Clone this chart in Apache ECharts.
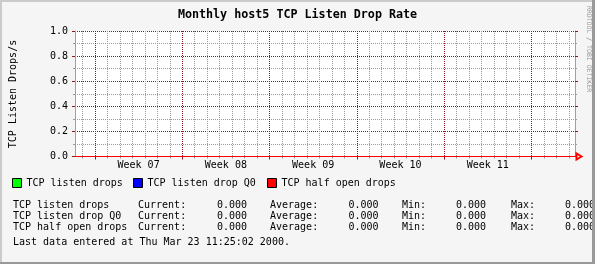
<!DOCTYPE html>
<html><head><meta charset="utf-8">
<script src="https://cdn.jsdelivr.net/npm/echarts@6/dist/echarts.min.js"></script>
<style>html,body{margin:0;padding:0;background:#f5f5f5}#c{width:595px;height:264px}</style>
</head><body><div id="c"></div>
<script>
const chartTitle = 'Monthly host5 TCP Listen Drop Rate';
const yAxisTitle = 'TCP Listen Drops/s';
const watermark = 'RRDTOOL / TOBI OETIKER';
const seriesNames = ['TCP listen drops', 'TCP listen drop Q0', 'TCP half open drops'];
const seriesColors = ['#00ff00', '#0000ff', '#ff0000'];
const weekLabels = ['Week 07', 'Week 08', 'Week 09', 'Week 10', 'Week 11'];
const weekLabelDays = [3.5, 10.5, 17.5, 24.5, 31.5];
const weekStartDays = [0, 7, 14, 21, 28, 35];   // days since Mon 14 Feb 2000
const dayLines = [-1, 1, 2, 3, 4, 5, 6, 8, 9, 10, 11, 12, 13, 15, 16, 17, 18, 19, 20, 22, 23, 24, 25, 26, 27, 29, 30, 31, 32, 33, 34, 36, 37, 38];
const xStart = -1.6, xEnd = 38.5;
const sampleDays = [-1.6, -1, 0, 1, 2, 3, 4, 5, 6, 7, 8, 9, 10, 11, 12, 13, 14, 15, 16, 17, 18, 19, 20, 21, 22, 23, 24, 25, 26, 27, 28, 29, 30, 31, 32, 33, 34, 35, 36, 37, 38, 38.5];
const listenDrops   = [0,0,0,0,0,0,0,0,0,0,0,0,0,0,0,0,0,0,0,0,0,0,0,0,0,0,0,0,0,0,0,0,0,0,0,0,0,0,0,0,0,0];
const listenDropQ0  = [0,0,0,0,0,0,0,0,0,0,0,0,0,0,0,0,0,0,0,0,0,0,0,0,0,0,0,0,0,0,0,0,0,0,0,0,0,0,0,0,0,0];
const halfOpenDrops = [0,0,0,0,0,0,0,0,0,0,0,0,0,0,0,0,0,0,0,0,0,0,0,0,0,0,0,0,0,0,0,0,0,0,0,0,0,0,0,0,0,0];
const yMin = 0, yMax = 1.0, yStep = 0.2;
const statCurrent = [0, 0, 0];
const statAverage = [0, 0, 0];
const statMin = [0, 0, 0];
const statMax = [0, 0, 0];
const lastUpdate = 'Last data entered at Thu Mar 23 11:25:02 2000.';

const FONT = '"DejaVu Sans Mono", monospace';
const MGRID = '#8b1a1a', GRID = '#9a9a9a', AXIS = '#a0a0a0';
const seriesData = [listenDrops, listenDropQ0, halfOpenDrops];

const chart = echarts.init(document.getElementById('c'), null, {renderer: 'canvas'});

function txt(x, y, text, align, extra) {
  return Object.assign({
    type: 'text', x: x, y: y, silent: true,
    style: {text: text, font: '10px ' + FONT, fill: '#000',
      align: align || 'left', verticalAlign: 'middle',
      textAlign: align || 'left', textVerticalAlign: 'middle'}
  }, extra || {});
}

const graphics = [];
graphics.push(txt(297.5, 15, chartTitle, 'center'));
graphics[0].style.font = 'bold 11.7px ' + FONT;
graphics.push(txt(13.5, 94, yAxisTitle, 'center', {rotation: Math.PI / 2}));
const wm = txt(589, 49, watermark, 'center', {rotation: -Math.PI / 2});
wm.style.font = '6.5px ' + FONT; wm.style.fill = '#999999';
graphics.push(wm);
const rowY = [205, 216, 227];
for (let i = 0; i < seriesNames.length; i++) {
  const y = rowY[i];
  graphics.push(txt(13, y, seriesNames[i]));
  graphics.push(txt(138, y, 'Current:'));
  graphics.push(txt(247, y, statCurrent[i].toFixed(3), 'right'));
  graphics.push(txt(270, y, 'Average:'));
  graphics.push(txt(378.5, y, statAverage[i].toFixed(3), 'right'));
  graphics.push(txt(402, y, 'Min:'));
  graphics.push(txt(486, y, statMin[i].toFixed(3), 'right'));
  graphics.push(txt(511, y, 'Max:'));
  graphics.push(txt(595, y, statMax[i].toFixed(3), 'right'));
}
graphics.push(txt(13, 242, lastUpdate));
// frame
graphics.push({type: 'rect', z: 100, shape: {x: 0, y: 0, width: 595, height: 2}, style: {fill: '#cbcbcb'}});
graphics.push({type: 'rect', z: 100, shape: {x: 0, y: 0, width: 2, height: 264}, style: {fill: '#cbcbcb'}});
graphics.push({type: 'rect', z: 101, shape: {x: 592, y: 0, width: 3, height: 264}, style: {fill: '#999999'}});
graphics.push({type: 'rect', z: 101, shape: {x: 0, y: 262, width: 595, height: 2}, style: {fill: '#999999'}});

const legendLeft = [12, 133, 267];
const legends = seriesNames.map((n, i) => ({
  data: [n], left: legendLeft[i], top: 178, orient: 'horizontal', padding: 0,
  icon: 'rect', itemWidth: 9, itemHeight: 9, selectedMode: false,
  itemStyle: {borderColor: '#000', borderWidth: 1},
  textStyle: {fontFamily: FONT, fontSize: 10, color: '#000'}
}));

const baseY = {
  type: 'value', min: yMin, max: yMax, interval: yStep,
  axisLine: {show: true, onZero: false, lineStyle: {color: AXIS, width: 1}},
  axisTick: {show: true, length: 3, lineStyle: {color: MGRID}},
  minorTick: {show: true, splitNumber: 2, length: 2, lineStyle: {color: GRID}},
};

const option = {
  animation: false,
  backgroundColor: '#f5f5f5',
  grid: {left: 75, top: 31, width: 500, height: 125.5, show: true, backgroundColor: '#ffffff', borderWidth: 0},
  legend: legends,
  xAxis: [
    {
      type: 'value', min: xStart, max: xEnd, position: 'bottom',
      axisLine: {show: true, onZero: false, lineStyle: {color: '#ff0000', width: 1},
        symbol: ['none', 'emptyTriangle'], symbolSize: [6, 5], symbolOffset: [0, 4]},
      axisTick: {show: true, length: 3, customValues: weekStartDays, lineStyle: {color: MGRID}},
      splitLine: {show: true, lineStyle: {color: MGRID, type: [1, 1], width: 1}},
      axisLabel: {show: true, customValues: weekLabelDays, margin: 4,
        fontFamily: FONT, fontSize: 10, color: '#000',
        formatter: v => weekLabels[weekLabelDays.indexOf(v)] || ''},
      z: 3
    },
    {
      type: 'value', min: xStart, max: xEnd, position: 'bottom',
      axisLine: {show: false, onZero: false},
      axisTick: {show: true, length: 2, customValues: dayLines, lineStyle: {color: GRID}},
      splitLine: {show: true, lineStyle: {color: GRID, type: [1, 1], width: 1}},
      axisLabel: {show: false},
      z: 1
    }
  ],
  yAxis: [
    Object.assign({}, baseY, {
      position: 'left',
      splitLine: {show: true, lineStyle: {color: MGRID, type: [1, 1], width: 1}},
      minorSplitLine: {show: true, lineStyle: {color: GRID, type: [1, 1], width: 1}},
      axisLabel: {show: true, margin: 7, fontFamily: FONT, fontSize: 10, color: '#000',
        formatter: v => v.toFixed(1)}
    }),
    Object.assign({}, baseY, {
      position: 'right',
      splitLine: {show: false}, minorSplitLine: {show: false},
      axisLabel: {show: false}
    })
  ],
  series: seriesNames.map((n, i) => ({
    name: n, type: 'line', xAxisIndex: 0, yAxisIndex: 0,
    data: sampleDays.map((d, k) => [d, seriesData[i][k]]),
    showSymbol: false, symbol: 'none', clip: false,
    lineStyle: {color: seriesColors[i], width: 1},
    itemStyle: {color: seriesColors[i]},
    z: 5
  })),
  graphic: graphics
};
chart.setOption(option);
</script></body></html>
